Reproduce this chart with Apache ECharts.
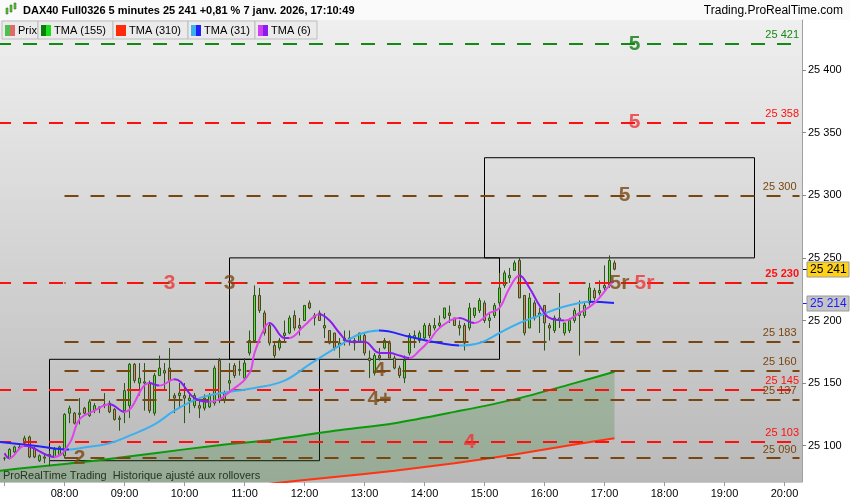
<!DOCTYPE html>
<html>
<head>
<meta charset="utf-8">
<script src="https://cdn.jsdelivr.net/npm/echarts@6.0.0/dist/echarts.min.js"></script>
<style>
  html, body { margin: 0; padding: 0; background: #fff; }
  #chart { width: 850px; height: 500px; }
</style>
</head>
<body>
<div id="chart"></div>
<script>
// 5 minute bars, first one at 07:00
const firstBarTime = '07:00';
const barOpen = [25090,25090,25095,25098,25102,25107,25098,25088,25090,25092,25091,25093,25092,25126,25126,25125,25130,25124,25128,25130,
  25132,25134,25129,25122,25128,25132,25165,25150,25150,25150,25126,25156,25160,25162,25140,25140,25140,25136,25132,25132,
  25130,25131,25134,25168,25136,25150,25164,25160,25154,25174,25184,25220,25206,25196,25180,25178,25188,25190,25204,25196,
  25200,25214,25204,25206,25196,25192,25190,25180,25186,25184,25184,25183,25188,25170,25158,25172,25178,25182,25170,25162,
  25154,25174,25186,25184,25186,25196,25194,25196,25202,25206,25202,25196,25196,25194,25204,25208,25214,25200,25204,25214,
  25228,25234,25240,25248,25220,25194,25214,25206,25212,25196,25192,25200,25190,25192,25200,25204,25204,25214,25224,25222,
  25226,25228,25246];
const barClose = [25090,25097,25099,25099,25106,25091,25091,25092,25091,25093,25097,25099,25125,25130,25118,25126,25126,25135,25132,25131,
  25133,25127,25121,25121,25144,25165,25152,25154,25151,25128,25156,25162,25158,25152,25138,25142,25138,25138,25140,25130,
  25138,25140,25162,25136,25142,25152,25156,25161,25166,25184,25220,25208,25190,25182,25172,25184,25190,25202,25194,25194,
  25212,25210,25202,25200,25194,25182,25178,25182,25184,25186,25182,25190,25174,25168,25172,25170,25184,25170,25162,25156,
  25168,25188,25188,25190,25196,25188,25196,25198,25210,25204,25196,25194,25182,25210,25210,25216,25200,25202,25212,25226,
  25238,25236,25246,25218,25190,25218,25202,25204,25198,25194,25202,25202,25198,25200,25208,25206,25212,25226,25218,25224,
  25228,25248,25241];
const barLow = [25088,25089,25094,25097,25100,25090,25090,25087,25086,25084,25090,25092,25090,25118,25117,25117,25125,25123,25126,25126,
  25130,25126,25120,25112,25118,25122,25150,25140,25128,25126,25124,25156,25144,25136,25126,25130,25118,25126,25130,25122,
  25128,25130,25132,25134,25134,25144,25154,25156,25152,25172,25182,25206,25188,25180,25170,25176,25182,25189,25192,25188,
  25200,25209,25196,25200,25186,25181,25176,25170,25180,25180,25176,25182,25172,25154,25156,25168,25177,25170,25161,25154,
  25150,25172,25178,25182,25184,25186,25192,25194,25201,25198,25196,25188,25176,25192,25202,25206,25198,25194,25202,25208,
  25226,25230,25240,25218,25188,25194,25200,25190,25176,25184,25190,25194,25188,25190,25198,25172,25202,25212,25216,25220,
  25224,25226,25240];
const barHigh = [25091,25098,25100,25102,25108,25108,25099,25093,25093,25096,25099,25100,25126,25132,25127,25138,25131,25137,25134,25131,
  25142,25136,25130,25124,25150,25166,25166,25166,25166,25152,25158,25172,25166,25178,25142,25150,25150,25142,25142,25136,
  25141,25142,25164,25170,25144,25166,25166,25168,25170,25192,25228,25226,25208,25198,25182,25186,25200,25204,25208,25202,
  25212,25216,25206,25208,25206,25192,25190,25186,25192,25192,25186,25190,25190,25176,25174,25178,25186,25184,25172,25164,
  25172,25190,25192,25192,25198,25198,25202,25204,25210,25212,25202,25200,25198,25214,25210,25218,25216,25206,25214,25238,
  25240,25242,25248,25250,25220,25222,25216,25210,25212,25198,25204,25222,25198,25202,25210,25216,25214,25230,25226,25232,
  25244,25252,25248];

// moving averages
const tma155Times = ['06:55','07:30','08:30','09:30','10:30','11:30','12:30','13:30','14:30','15:30','16:30','17:10'];
const tma155Values = [25080,25083,25088,25094,25100,25105,25112,25118,25127,25137,25150,25159];
const tma310Values = [25046,25049,25054,25059,25064,25070,25075,25080,25086,25093,25101,25106];

const tma31Times = ['06:55','07:30','08:05','08:15','08:45','09:05','09:30','09:50','10:15','10:45','11:10','11:40','12:05','12:15',
  '12:35','12:55','13:15','13:45','14:15','14:35','14:55','15:15','15:35','15:55','16:15','16:35','16:45','17:10'];
const tma31Values = [25103,25100,25097,25098,25102,25108,25117,25128,25138,25143,25146,25152,25165,25170,
  25180,25189,25192,25187,25182,25180,25182,25190,25198,25204,25210,25214,25215,25214];

const tma6Times = ['07:00','07:05','07:20','07:50','08:05','08:15','08:30','08:45','09:00','09:25','09:35','09:50','10:10','10:25',
  '10:50','11:05','11:10','11:20','11:25','11:40','11:45','12:00','12:15','12:25','12:35','12:45','13:00','13:15','13:25','13:35',
  '13:45','13:55','14:05','14:15','14:35','14:50','15:05','15:15','15:25','15:35','15:45','15:55','16:05','16:20','16:35','16:50',
  '17:05','17:10'];
const tma6Values = [25094,25090,25100,25091,25102,25121,25128,25133,25127,25150,25148,25153,25138,25135,
  25146,25158,25174,25194,25198,25186,25186,25196,25205,25200,25190,25183,25183,25174,25174,25172,
  25170,25176,25184,25194,25202,25198,25206,25210,25226,25236,25226,25212,25202,25200,25206,25214,
  25228,25232];

// horizontal levels
const greenLevels = [25421];
const redLevels = [25358, 25230, 25145, 25103];
const brownLevels = [25300, 25230, 25183, 25160, 25137, 25090];

// boxes: start, end, low, high
const boxes = [
  ['07:45', '12:15', 25088, 25169],
  ['10:45', '15:15', 25169, 25250],
  ['15:00', '19:30', 25250, 25330]
];

// level tags: text, time, value
const greenNotes = [['5', '17:30', 25421]];
const redNotes = [['5', '17:30', 25358], ['3', '09:45', 25230], ['5r', '17:40', 25230], ['4', '14:45', 25103]];
const brownNotes = [['5', '17:20', 25300], ['3', '10:45', 25230], ['5r', '17:15', 25230], ['2', '08:15', 25090],
  ['4', '13:15', 25160], ['4+', '13:15', 25137]];

const lastPrice = 25241;
const lastTma31 = 25214;

// ---------------------------------------------------------------
const FONT = '"Liberation Sans", Arial, sans-serif';
const GREEN = '#138a13', RED = '#ff1010', BROWN = '#7a4610';

const toMin = t => { const p = t.split(':'); return +p[0] * 60 + +p[1]; };
const toTime = m => String(Math.floor(m / 60)).padStart(2, '0') + ':' + String(m % 60).padStart(2, '0');
const fmt = v => String(v).replace(/\B(?=(\d{3})+(?!\d))/g, ' ');

const slots = [];
for (let m = toMin('06:55'); m <= toMin('20:15'); m += 5) slots.push(toTime(m));

const candleData = slots.map(t => {
  const i = (toMin(t) - toMin(firstBarTime)) / 5;
  return (i >= 0 && i < barOpen.length) ? [barOpen[i], barClose[i], barLow[i], barHigh[i]] : '-';
});

const pairs = (times, values) => times.map((t, i) => [t, values[i]]);

// colour a curve by its slope (rising / falling)
function slopePieces(times, values, upColor, downColor) {
  const pieces = [];
  let prevUp = true;
  for (let i = 0; i < times.length - 1; i++) {
    const d = values[i + 1] - values[i];
    const up = d === 0 ? prevUp : d > 0;
    prevUp = up;
    pieces.push({ gte: slots.indexOf(times[i]), lt: slots.indexOf(times[i + 1]), color: up ? upColor : downColor });
  }
  const last = pieces[pieces.length - 1];
  last.lte = last.lt; delete last.lt;
  return pieces;
}

const lastSlot = slots[slots.length - 1];
const dash = { type: [14, 12], width: 2 };
const levelLabel = (v, color, bold) => ({
  show: true, position: 'insideEndTop', formatter: fmt(v), color: color,
  fontFamily: FONT, fontSize: 11, fontWeight: bold ? 'bold' : 'normal', distance: 3
});

const markLines = [];
greenLevels.forEach(v => markLines.push({ yAxis: v, lineStyle: Object.assign({ color: GREEN }, dash), label: levelLabel(v, GREEN) }));
brownLevels.forEach(v => markLines.push([
  { xAxis: '08:00', yAxis: v, lineStyle: Object.assign({ color: BROWN, dashOffset: redLevels.includes(v) ? 13 : 0 }, dash),
    label: redLevels.includes(v) ? { show: false } : levelLabel(v, BROWN) },
  { xAxis: lastSlot, yAxis: v }
]));
redLevels.forEach(v => markLines.push({ yAxis: v, lineStyle: Object.assign({ color: RED }, dash),
  label: levelLabel(v, RED, brownLevels.includes(v)) }));

const noteSeries = (notes, color) => ({
  type: 'scatter', symbolSize: 1, itemStyle: { color: 'rgba(0,0,0,0)' }, z: 6, silent: true,
  data: notes.map(n => [n[1], n[2], n[0]]),
  label: { show: true, position: 'inside', formatter: p => p.value[2], color: color,
    fontFamily: FONT, fontSize: 21, fontWeight: 'bold' }
});

const chart = echarts.init(document.getElementById('chart'));

const option = {
  animation: false,
  grid: {
    left: -3, right: 48, top: 20, bottom: 18, show: true, borderWidth: 0,
    outerBoundsMode: 'none', containLabel: false,
    backgroundColor: new echarts.graphic.LinearGradient(0, 0, 0, 1, [
      { offset: 0, color: '#efefef' }, { offset: 1, color: '#b9b9b9' }
    ])
  },
  xAxis: {
    type: 'category', data: slots, boundaryGap: true,
    axisLine: { show: true, lineStyle: { color: '#c8c8c8' } },
    axisTick: { show: true, alignWithLabel: true, length: 4, interval: (i, v) => v.endsWith(':00'), lineStyle: { color: '#999' } },
    axisLabel: { interval: (i, v) => v.endsWith(':00') && v !== '07:00', color: '#000', fontFamily: FONT, fontSize: 11, margin: 6 },
    splitLine: { show: false }
  },
  yAxis: {
    type: 'value', position: 'right', min: 25071, max: 25440, scale: true,
    splitNumber: 7, minInterval: 50, maxInterval: 50,
    axisLine: { show: true, lineStyle: { color: '#a0a0a0' } },
    axisTick: { show: true, length: 4, lineStyle: { color: '#888' } },
    axisLabel: { formatter: v => fmt(v), color: '#000', fontFamily: FONT, fontSize: 11, margin: 6,
      showMinLabel: false, showMaxLabel: false },
    splitLine: { show: false }
  },
  visualMap: [
    { type: 'piecewise', show: false, dimension: 0, seriesIndex: 5,
      pieces: slopePieces(tma31Times, tma31Values, '#3cb0ee', '#2222ff') },
    { type: 'piecewise', show: false, dimension: 0, seriesIndex: 6,
      pieces: slopePieces(tma6Times, tma6Values, '#e043ee', '#8a1cf0') }
  ],
  series: [
    { // TMA (310), base of the cloud
      type: 'line', name: 'TMA (310)', data: pairs(tma155Times, tma310Values), stack: 'cloud', smooth: 0.3,
      showSymbol: false, lineStyle: { color: '#ff3311', width: 2 }, z: 2
    },
    { // cloud between TMA 310 and TMA 155
      type: 'line', data: pairs(tma155Times, tma155Values.map((v, i) => v - tma310Values[i])), stack: 'cloud', smooth: 0.3,
      showSymbol: false, lineStyle: { width: 0 }, areaStyle: { color: 'rgba(30,120,30,0.32)' }, z: 1
    },
    {
      type: 'line', name: 'TMA (155)', data: pairs(tma155Times, tma155Values), smooth: 0.3,
      showSymbol: false, lineStyle: { color: '#0a9a0a', width: 2 }, z: 3
    },
    {
      type: 'candlestick', name: 'Prix', data: candleData, barWidth: 3, z: 4,
      itemStyle: { color: '#5ee03e', color0: '#ec8070', borderColor: '#2e5518', borderColor0: '#2e5518',
        borderColorDoji: '#2e5518', borderWidth: 1 },
      markArea: {
        silent: true,
        itemStyle: { color: 'rgba(0,0,0,0)', borderColor: '#000', borderWidth: 1 },
        data: boxes.map(b => [{ xAxis: b[0], yAxis: b[2] }, { xAxis: b[1], yAxis: b[3] }])
      },
      markLine: { silent: true, symbol: 'none', data: markLines }
    },
    noteSeries(brownNotes, BROWN),
    {
      type: 'line', name: 'TMA (31)', data: pairs(tma31Times, tma31Values), smooth: 0.4,
      showSymbol: false, lineStyle: { width: 2 }, z: 5
    },
    {
      type: 'line', name: 'TMA (6)', data: pairs(tma6Times, tma6Values), smooth: 0.4,
      showSymbol: false, lineStyle: { width: 2 }, z: 5
    },
    noteSeries(redNotes, '#ee3434'),
    noteSeries(greenNotes, '#0e7a0e')
  ]
};
chart.setOption(option);

// header, legend, price tags
const legendItems = [
  ['Prix', 2, 36, '#4cbf4c', '#e06a6a'],
  ['TMA (155)', 38, 75, '#0b7d0b', '#18e018'],
  ['TMA (310)', 113, 75, '#ff2a0a', '#ff2a0a'],
  ['TMA (31)', 188, 67, '#3cb0ee', '#2020ff'],
  ['TMA (6)', 255, 62, '#d040f0', '#8a1cf0']
];
const g = [
  { type: 'rect', shape: { x: 0, y: 0, width: 850, height: 20 }, style: { fill: '#fafafa' } },
  { type: 'rect', shape: { x: 6, y: 8, width: 2, height: 6 }, style: { fill: '#55cc33', stroke: '#2e5518', lineWidth: 0.5 } },
  { type: 'rect', shape: { x: 10, y: 5, width: 2, height: 7 }, style: { fill: '#55cc33', stroke: '#2e5518', lineWidth: 0.5 } },
  { type: 'rect', shape: { x: 14, y: 3, width: 2, height: 6 }, style: { fill: '#55cc33', stroke: '#2e5518', lineWidth: 0.5 } },
  { type: 'text', x: 23, y: 11, style: { text: 'DAX40 Full0326 5 minutes 25 241 +0,81 % 7 janv. 2026, 17:10:49',
    font: 'bold 11px ' + FONT, fill: '#000', verticalAlign: 'middle' } },
  { type: 'text', x: 843, y: 11, style: { text: 'Trading.ProRealTime.com', font: '12px ' + FONT, fill: '#000',
    align: 'right', verticalAlign: 'middle' } },
  { type: 'text', x: 3, y: 476, style: { text: 'ProRealTime Trading  Historique ajusté aux rollovers',
    font: '11px ' + FONT, fill: '#222', verticalAlign: 'middle' } }
];
legendItems.forEach(it => {
  g.push({ type: 'rect', shape: { x: it[1], y: 21, width: it[2], height: 18 }, style: { fill: '#ebebeb', stroke: '#bdbdbd', lineWidth: 1 } });
  g.push({ type: 'rect', shape: { x: it[1] + 3, y: 25, width: 5, height: 11 }, style: { fill: it[3] } });
  g.push({ type: 'rect', shape: { x: it[1] + 8, y: 25, width: 5, height: 11 }, style: { fill: it[4] } });
  g.push({ type: 'text', x: it[1] + 16, y: 31, style: { text: it[0], font: '11px ' + FONT, fill: '#000', verticalAlign: 'middle' } });
});
const tag = (v, fill, color) => {
  const y = Math.round(chart.convertToPixel({ yAxisIndex: 0 }, v));
  g.push({ type: 'line', shape: { x1: 802, y1: y + 0.5, x2: 807, y2: y + 0.5 }, style: { stroke: color, lineWidth: 1 } });
  g.push({ type: 'rect', shape: { x: 807, y: y - 7, width: 42, height: 15 }, style: { fill: fill, stroke: '#9a9a9a', lineWidth: 1 } });
  g.push({ type: 'text', x: 810, y: y + 1, style: { text: fmt(v), font: '12px ' + FONT, fill: color, verticalAlign: 'middle' } });
};
tag(lastPrice, '#ffd21a', '#000');
tag(lastTma31, '#c4c4c4', '#1a1aff');
chart.setOption({ graphic: g });
</script>
</body>
</html>
